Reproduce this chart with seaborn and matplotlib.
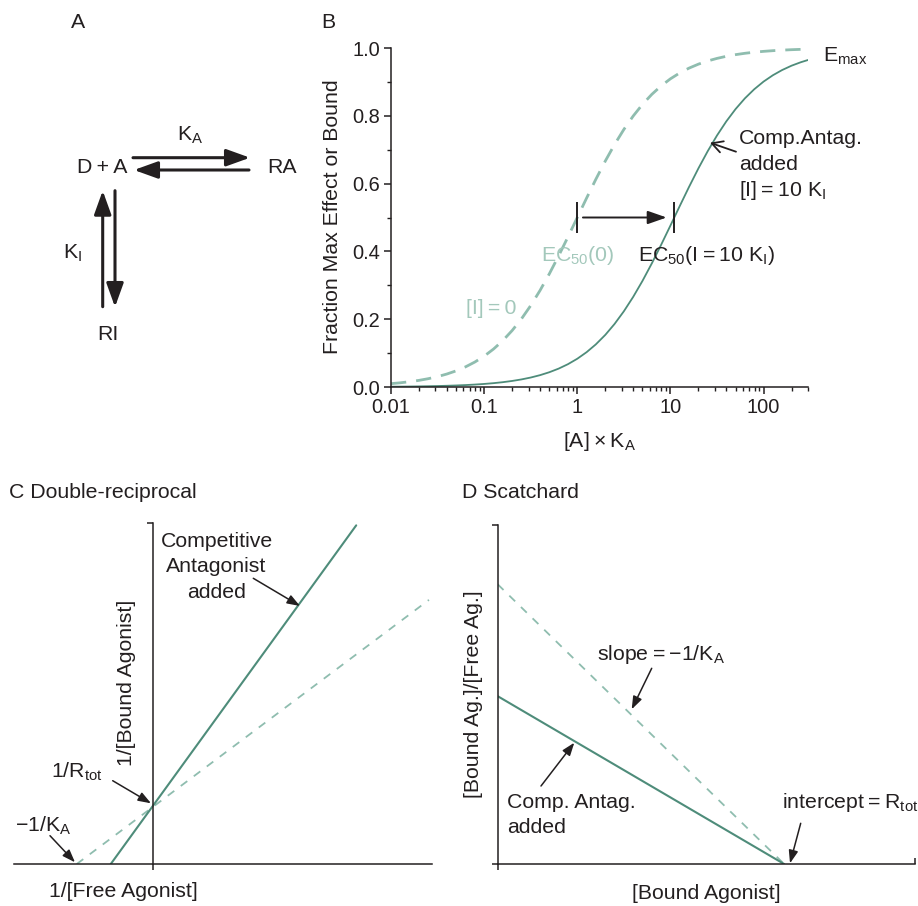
import numpy as np
import pandas as pd
import matplotlib
matplotlib.use("Agg")
import matplotlib.pyplot as plt
import seaborn as sns
from matplotlib.ticker import FixedLocator, AutoMinorLocator, NullFormatter

# ---------------- data ----------------
conc = [0.01, 0.0126, 0.0158, 0.0200, 0.0251, 0.0316, 0.0398, 0.0501, 0.0631, 0.0794,
        0.1, 0.126, 0.158, 0.200, 0.251, 0.316, 0.398, 0.501, 0.631, 0.794,
        1.0, 1.26, 1.58, 2.00, 2.51, 3.16, 3.98, 5.01, 6.31, 7.94,
        10.0, 12.6, 15.8, 20.0, 25.1, 31.6, 39.8, 50.1, 63.1, 79.4,
        100.0, 126.0, 158.0, 200.0, 251.0, 300.0]
frac_no_antag = [0.0099, 0.0124, 0.0156, 0.0196, 0.0245, 0.0306, 0.0383, 0.0477, 0.0594, 0.0736,
                 0.0909, 0.1119, 0.1364, 0.1667, 0.2006, 0.2401, 0.2847, 0.3338, 0.3869, 0.4426,
                 0.5000, 0.5575, 0.6124, 0.6667, 0.7151, 0.7596, 0.7992, 0.8336, 0.8632, 0.8881,
                 0.9091, 0.9265, 0.9405, 0.9524, 0.9617, 0.9693, 0.9755, 0.9804, 0.9844, 0.9876,
                 0.9901, 0.9921, 0.9937, 0.9950, 0.9960, 0.9967]
frac_with_antag = [0.00091, 0.00114, 0.00143, 0.00182, 0.00228, 0.00286, 0.00361, 0.00453, 0.00570, 0.00717,
                   0.00901, 0.01133, 0.01416, 0.01786, 0.02231, 0.02792, 0.03492, 0.04358, 0.05425, 0.06732,
                   0.08333, 0.1028, 0.1256, 0.1538, 0.1858, 0.2232, 0.2657, 0.3129, 0.3645, 0.4192,
                   0.4762, 0.5339, 0.5896, 0.6452, 0.6953, 0.7418, 0.7835, 0.8200, 0.8516, 0.8783,
                   0.9009, 0.9197, 0.9349, 0.9479, 0.9580, 0.9646]
ec50 = [1.0, 11.0]
b_xticks = [0.01, 0.1, 1, 10, 100]
b_xticklabels = ["0.01", "0.1", "1", "10", "100"]
b_yticks = [0.0, 0.2, 0.4, 0.6, 0.8, 1.0]
b_yticklabels = ["0.0", "0.2", "0.4", "0.6", "0.8", "1.0"]

recip_x_ctrl = [-1.0, 3.6]
recip_y_ctrl = [0.0, 4.5]
recip_x_antag = [-0.556, 2.65]
recip_y_antag = [0.0, 5.77]

scat_x = [0.0, 1.0]
scat_y_ctrl = [1.0, 0.0]
scat_y_antag = [0.60, 0.0]

# ---------------- style ----------------
sns.set_theme(style="ticks")
INK = "#231f20"
GREEN = "#4e8c7a"
GREEN_L = "#8fbdaf"
TEXT_L = "#a3c8bb"
FS = 15.3
TFS = 14.4
plt.rcParams["font.family"] = ["Liberation Sans", "DejaVu Sans"]
plt.rcParams.update({
    "mathtext.fontset": "custom",
    "mathtext.rm": "Liberation Sans",
    "mathtext.it": "Liberation Sans:italic",
    "mathtext.bf": "Liberation Sans:bold",
    "axes.edgecolor": INK,
    "axes.linewidth": 1.1,
    "xtick.color": INK,
    "ytick.color": INK,
    "text.color": INK,
    "axes.labelcolor": INK,
})

W, H = 918, 906
fig = plt.figure(figsize=(W / 100, H / 100), dpi=100)


def box(l, t, r, b):
    return [l / W, 1 - b / H, (r - l) / W, (b - t) / H]


def T(x, y, s, ha="left", va="baseline", color=INK, fs=FS, **kw):
    fig.text(x / W, 1 - y / H, s, ha=ha, va=va, color=color, fontsize=fs, **kw)


# ---------------- panel B ----------------
axB = fig.add_axes(box(391, 48, 808, 387))
dfB = pd.DataFrame({"conc": conc, "no": frac_no_antag, "with": frac_with_antag})
sns.lineplot(data=dfB, x="conc", y="no", ax=axB, color=GREEN_L, lw=2.0)
axB.lines[-1].set_dashes([5.5, 3.6])
sns.lineplot(data=dfB, x="conc", y="with", ax=axB, color=GREEN, lw=1.3)
axB.set_xscale("log")
axB.set_xlim(0.01, 300)
axB.set_ylim(0, 1.0)
axB.set_xticks(b_xticks)
axB.set_xticklabels(b_xticklabels)
axB.set_yticks(b_yticks)
axB.set_yticklabels(b_yticklabels)
axB.yaxis.set_minor_locator(AutoMinorLocator(2))
axB.xaxis.set_minor_formatter(NullFormatter())
axB.tick_params(which="major", length=5, width=1.1, labelsize=TFS, pad=3, direction="out")
axB.tick_params(which="minor", length=2.6, width=1.0, direction="out")
axB.tick_params(axis="x", which="both", top=False)
sns.despine(ax=axB)
axB.set_ylabel("Fraction Max Effect or Bound", fontsize=FS, va="center")
axB.yaxis.set_label_coords(-0.1403, 0.502)
axB.set_xlabel("[A]\u2009\u00d7\u2009K$_\\mathrm{A}$", fontsize=FS, va="baseline")
axB.xaxis.set_label_coords(0.501, -0.176)
axB.vlines(ec50, 0.455, 0.545, color=INK, lw=1.4)
axB.annotate("", xy=(9.1, 0.5), xytext=(1.15, 0.5),
             arrowprops=dict(arrowstyle="-|>,head_length=0.8,head_width=0.28", lw=1.4,
                             color=INK, shrinkA=0, shrinkB=0, mutation_scale=14.4))

# ---------------- panel C ----------------
axC = fig.add_axes(box(14, 523, 432, 864))
sns.lineplot(x=recip_x_ctrl, y=recip_y_ctrl, ax=axC, color=GREEN_L, lw=1.3)
axC.lines[-1].set_dashes([4.5, 4.5])
sns.lineplot(x=recip_x_antag, y=recip_y_antag, ax=axC, color=GREEN, lw=1.5)
axC.set_xlim(-1.82, 3.64)
axC.set_ylim(0, 5.81)
axC.spines["left"].set_position(("data", 0))
axC.spines["top"].set_visible(False)
axC.spines["right"].set_visible(False)
axC.set_xticks([0])
axC.set_xticklabels([""])
axC.set_yticks([5.81])
axC.set_yticklabels([""])
axC.tick_params(length=4.3, width=1.1, direction="out")
axC.set_ylabel("1/[Bound Agonist]", fontsize=FS, va="center")
axC.yaxis.set_label_coords(0.2696, 0.530)
axC.set_xlabel("1/[Free Agonist]", fontsize=FS, va="baseline")
axC.xaxis.set_label_coords(0.261, -0.0959)

# ---------------- panel D ----------------
axD = fig.add_axes(box(497.7, 525, 915, 864))
sns.lineplot(x=scat_x, y=scat_y_ctrl, ax=axD, color=GREEN_L, lw=1.3)
axD.lines[-1].set_dashes([4.5, 4.5])
sns.lineplot(x=scat_x, y=scat_y_antag, ax=axD, color=GREEN, lw=1.5)
axD.set_xlim(0, 1.457)
axD.set_ylim(0, 1.212)
sns.despine(ax=axD)
axD.set_xticks([0])
axD.set_xticklabels([""])
axD.xaxis.set_minor_locator(FixedLocator([1.457]))
axD.set_yticks([0, 1.212])
axD.set_yticklabels(["", ""])
axD.tick_params(which="major", length=4.3, width=1.1, direction="out")
axD.tick_params(axis="x", which="minor", length=4.3, width=1.1, direction="in")
axD.set_ylabel("[Bound Ag.]/[Free Ag.]", fontsize=FS, va="center")
axD.yaxis.set_label_coords(-0.0568, 0.5015)
axD.set_xlabel("[Bound Agonist]", fontsize=FS, va="baseline")
axD.xaxis.set_label_coords(0.5008, -0.103)

# ---------------- overlay for annotations (pixel coords) ----------------
axO = fig.add_axes([0, 0, 1, 1], zorder=10)
axO.set_xlim(0, W)
axO.set_ylim(H, 0)
axO.axis("off")
axO.patch.set_visible(False)


def arrow(tail, tip, style, lw, ms):
    axO.annotate("", xy=tip, xytext=tail,
                 arrowprops=dict(arrowstyle=style, lw=lw, color=INK,
                                 shrinkA=0, shrinkB=0, mutation_scale=ms))


# panel A scheme
big = "-|>,head_length=1.0,head_width=0.36"
arrow((133, 157.7), (250, 157.7), big, 2.2, 14.4)
arrow((249, 170), (134, 170), big, 2.2, 14.4)
arrow((102.7, 306.7), (102.7, 190.7), big, 2.2, 14.4)
arrow((115, 190.7), (115, 307), big, 2.2, 14.4)
T(78, 23, "A", ha="center", va="center")
T(328, 23, "B", ha="center", va="center")
T(101.7, 172.7, "D\u2009+\u2009A", ha="center")
T(281.7, 172.7, "RA", ha="center")
T(190, 141, "K$_\\mathrm{A}$", ha="center")
T(73, 259, "K$_\\mathrm{I}$", ha="center")
T(108, 340, "RI", ha="center")

# panel B texts
T(822.7, 61.7, "E$_\\mathrm{max}$")
T(739.3, 144, "Comp.Antag.")
T(739.3, 170, "added")
T(739.3, 196, "[I]\u2009=\u200910 K$_\\mathrm{I}$")
T(638.3, 261, "EC$_{50}$(I\u2009=\u200910 K$_\\mathrm{I}$)")
T(540.7, 261, "EC$_{50}$(0)", color=TEXT_L)
T(465.7, 314, "[I]\u2009=\u20090", color=TEXT_L)
arrow((736, 151.7), (710, 142.7), "->,head_length=0.55,head_width=0.3", 1.3, 14)

# panel C texts
small = "-|>,head_length=0.55,head_width=0.2"
T(9.3, 498.3, "C Double-reciprocal")
T(216.5, 547.3, "Competitive", ha="center")
T(216.5, 572, "Antagonist", ha="center")
T(216.5, 597.7, "added", ha="center")
arrow((253.3, 578.3), (300, 606), small, 1.1, 14)
T(50.7, 777.3, "1/R$_\\mathrm{tot}$")
arrow((112.7, 780.7), (151, 803.3), small, 1.1, 14)
T(15, 831.7, "\u22121/K$_\\mathrm{A}$")
arrow((50, 835.7), (75, 862.3), small, 1.1, 14)

# panel D texts
T(461.7, 498.3, "D Scatchard")
T(596.7, 660, "slope\u2009=\u2009\u22121/K$_\\mathrm{A}$")
arrow((651.7, 668.3), (631.7, 709.3), small, 1.1, 14)
T(506.7, 808.3, "Comp. Antag.")
T(506.7, 833.3, "added")
arrow((541, 786), (574.3, 742.7), small, 1.1, 14)
T(781.7, 808.3, "intercept\u2009=\u2009R$_\\mathrm{tot}$")
arrow((800.7, 823.3), (790, 863.3), small, 1.1, 14)

fig.savefig("out.png", dpi=100, facecolor="white")
